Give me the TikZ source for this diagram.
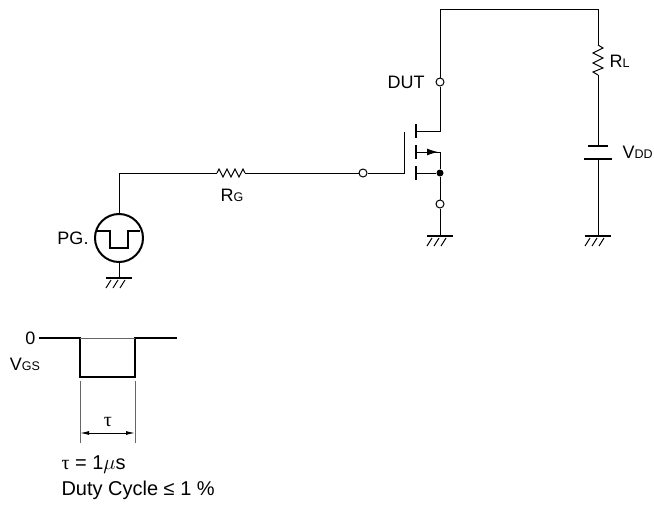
\documentclass[tikz,border=0pt]{standalone}
\usepackage{fontspec}
\setmainfont{Liberation Sans}
\newfontfamily\symfont{Liberation Serif}
\usetikzlibrary{arrows.meta}
\newcommand{\subs}[1]{{\fontsize{12.5}{14}\selectfont #1}}
\begin{document}
\begin{tikzpicture}[x=1pt,y=-1pt,line width=1pt,
  term/.style={circle,draw,fill=white,inner sep=0pt,minimum size=8pt},
  plate/.style={line width=2.5pt},
  lbl/.style={font=\fontsize{18}{21}\selectfont,inner sep=0pt},
  note/.style={font=\fontsize{20}{24}\selectfont,inner sep=0pt,anchor=west},
  gnd/.pic={\draw[line width=2pt] (-13,0) -- (13,0);
    \draw (-13,10) -- (-8,2) (-6,10) -- (-1,2) (1,10) -- (6,2);}]
\useasboundingbox (0,0) rectangle (654,506);
% terminals and nodes
\node[term] (dut) at (440,82) {};
\node[term] (gin) at (363,173) {};
\node[term] (src) at (440,204) {};
\node[circle,fill,inner sep=0pt,minimum size=7pt] (dot) at (440,173) {};
\node[circle,draw,line width=2pt,inner sep=0pt,minimum size=48pt] (pg) at (119,238) {};
\coordinate (tl) at (440,9);
\coordinate (tr) at (598,9);
\coordinate (rlt) at (598,45);
\coordinate (rlb) at (598,75);
\coordinate (bt) at (598,146);
\coordinate (bb) at (598,159);
\coordinate (rgl) at (217,173);
\coordinate (rgr) at (245,173);
\coordinate (gate) at (404,173);
\coordinate (drn) at (416,131);
\coordinate (srcp) at (416,152);
\coordinate (bulk) at (416,173);
% wires
\draw (tl) -- (tr) -- (rlt);
\draw (tl) -- (dut);
\draw (dut) |- (drn);
\draw (rlb) -- (bt);
\draw (bb) -- (598,236);
\draw (pg.north) |- (rgl);
\draw (rgr) -- (gin);
\draw (gin) -- (gate) -- (404,132);
\draw (srcp) -| (dot);
\draw[-{Latex[length=11pt,width=7pt]}] (srcp) -- (438,152);
\draw (bulk) -- (dot);
\draw (dot) -- (src);
\draw (src) -- (440,236);
\draw (pg.south) -- (119,278);
% resistors
\draw (rgl) -- (219,169) -- (223,177) -- (227,169) -- (231,177) -- (235,169) -- (239,177) -- (243,169) -- (rgr);
\draw (rlt) -- (603,48) -- (593,53) -- (603,58) -- (593,63) -- (603,68) -- (593,72) -- (rlb);
% battery
\draw[line width=2pt] (588,146) -- (608,146);
\draw[line width=2.8pt] (584,159) -- (612,159);
% mosfet
\draw[plate] (416,124) -- (416,138);
\draw[plate] (416,145) -- (416,159);
\draw[plate] (416,166) -- (416,180);
% pulse in generator
\draw[line width=2pt] (97,231) -- (110,231) -- (110,248) -- (128,248) -- (128,231) -- (140,231);
% grounds
\pic at (440,236) {gnd};
\pic at (598,236) {gnd};
\pic at (119,278) {gnd};
% labels
\node[lbl,anchor=east] (dutl) at (425,82) {DUT};
\node[lbl,anchor=east] (pgl) at (89,238) {PG.};
\node[lbl] (rgt) at (232,195) {R\subs{G}};
\node[lbl,anchor=west] (rll) at (609,61) {R\subs{L}};
\node[lbl,anchor=west] (vdd) at (622,152) {V\subs{DD}};
% waveform
\draw[line width=2.5pt] (39,338) -- (80,338) -- (80,377) -- (135,377) -- (135,338) -- (177,338);
\draw[black!60,line width=0.6pt] (80,338) -- (135,338);
\coordinate (e1) at (80,433);
\coordinate (e2) at (135,433);
\draw[black!60] (80,381) -- (80,443);
\draw[black!60] (135,381) -- (135,443);
\draw[{Latex[length=9pt,width=4pt]}-{Latex[length=9pt,width=4pt]}] (e1) -- (e2);
\node[lbl,anchor=east] (zero) at (36,338) {0};
\node[lbl] (vgs) at (25,364) {V\subs{GS}};
\node[note,anchor=center] (tau) at (108,422) {\symfont τ};
\node[note] (tval) at (61,465) {{\symfont τ}\ =\ 1$\mu$s};
\node[note] (duty) at (61,490) {Duty Cycle\ ≤\ 1\ \%};
\end{tikzpicture}
\end{document}
